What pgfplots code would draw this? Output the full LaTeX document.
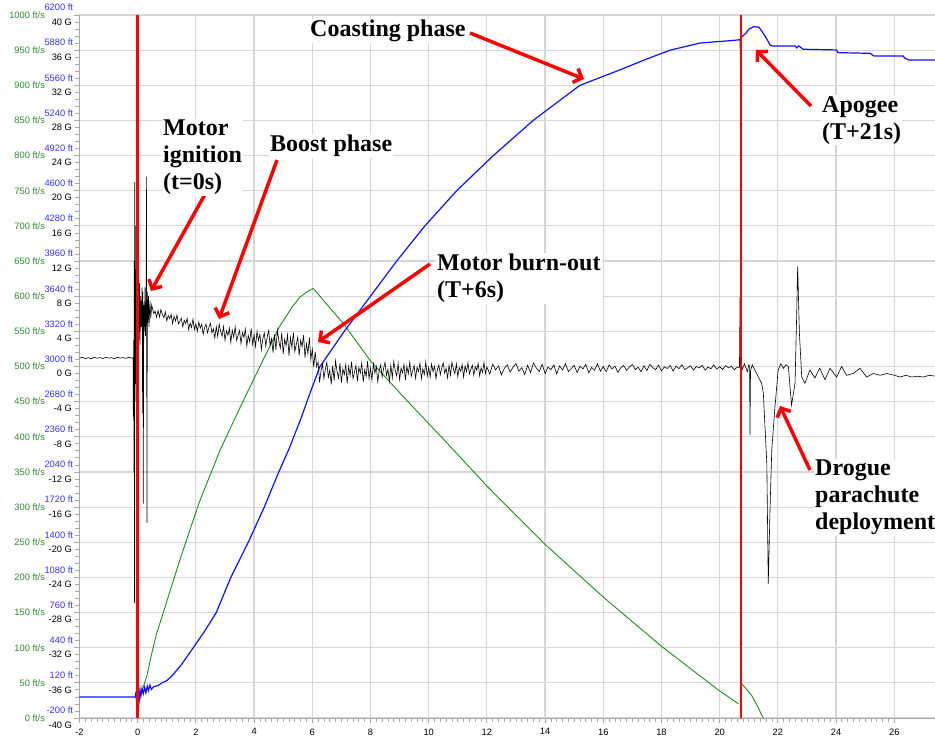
\documentclass[border=0pt]{standalone}
\usepackage{fontspec}
\setmainfont{Liberation Serif}
\newfontfamily\lsans{Liberation Sans}
\usepackage{pgfplots}
\pgfplotsset{compat=1.18}
\usetikzlibrary{arrows.meta}
\definecolor{gridgray}{HTML}{D6D6D6}
\definecolor{axgray}{HTML}{A8A8A8}
\definecolor{velgreen}{HTML}{1E8C1E}
\definecolor{lblgreen}{HTML}{2E8B2E}
\definecolor{altblue}{HTML}{1010FF}
\definecolor{lblblue}{HTML}{3333FF}
\definecolor{redline}{HTML}{FF0000}

\pgfplotsset{
  base/.style={
    at={(79.5pt,22pt)}, anchor=south west,
    scale only axis, width=855.5pt, height=703pt,
    xmin=-2, xmax=27.4,
    clip=true,
    scaled ticks=false,
    /pgf/number format/assume math mode=true,
    /pgf/number format/1000 sep={},
    ticklabel style={font=\lsans\fontsize{9.3}{10}\selectfont},
    tick align=outside,
    major tick length=5pt, minor tick length=4pt,
  },
  over/.style={
    base, hide x axis, axis y line*=left,
    y axis line style={draw=none, -},
    ytick style={draw=none},
    grid=none,
  }
}

\begin{document}
\begin{tikzpicture}
\path[use as bounding box] (0,0) rectangle (935pt,740pt);

% ---------- main axis: velocity (ft/s) ----------
\begin{axis}[base,
  ymin=0, ymax=1000,
  ytick={0,50,...,1000},
  minor y tick num=4,
  xtick={-2,0,...,26},
  minor x tick num=9,
  axis x line*=bottom, axis y line*=left,
  axis line style={axgray, line width=1pt, -},
  x axis line style={-}, y axis line style={-},
  tick style={axgray, line width=0.8pt},
  grid=major, major grid style={gridgray, line width=1.2pt},
  yticklabel={\pgfmathprintnumber{\tick} ft/s},
  yticklabel style={lblgreen, anchor=east, xshift=-26pt},
  xticklabel style={black, yshift=-2pt},
]
\addplot[velgreen, line width=0.9pt] coordinates {
(0,0) (0.03,15) (0.08,30) (0.31,59) (0.5,95) (0.65,120) (0.88,150) (1.45,225)
(2.1,305) (2.83,381) (3.5,440) (4.2,500) (4.89,558) (5.3,584) (5.58,599)
(5.85,607) (6.03,611) (6.2,603) (7.07,561) (8.0,508) (9.24,452) (10.5,397)
(12,330) (14,247) (16,172) (18,102) (19.95,40) (20.65,20)
};
\addplot[velgreen, line width=0.9pt] coordinates {
(20.73,50) (20.9,42) (21.1,32) (21.3,17) (21.4,8) (21.5,0)
};
\end{axis}

% ---------- altitude axis (ft) ----------
\begin{axis}[over,
  ymin=-200, ymax=6200,
  ytick={-200,120,...,6200},
  yticklabel={\pgfmathprintnumber{\tick} ft},
  yticklabel style={lblblue, anchor=east, xshift=2pt, yshift=7.5pt},
]
\addplot[altblue, line width=1.2pt] coordinates {
(-2,-9) (-0.08,-9) (-0.06,40) (-0.04,-60) (-0.02,30) (0,-120) (0.02,20)
(0.05,-20) (0.08,60) (0.11,0) (0.15,70) (0.19,20) (0.24,80) (0.28,30)
(0.33,90) (0.37,50) (0.42,100) (0.47,60) (0.55,85) (0.7,95) (0.82,118)
(1.0,140) (1.2,190) (1.5,285) (1.91,440) (2.3,590) (2.7,760) (3.2,1080)
(3.8,1400) (4.35,1720) (4.85,2040) (5.2,2250) (5.6,2520) (5.92,2756)
(6.26,2998) (7.1,3320) (8.0,3640) (8.9,3960) (9.87,4280) (10.96,4600)
(12.22,4920) (13.59,5240) (15.2,5560) (16.57,5700) (17.5,5800) (18.3,5880)
(19.33,5945) (20.35,5966) (20.7,5975) (20.72,5840) (20.75,6000)
(20.9,6033) (21.0,6070) (21.17,6094) (21.35,6088) (21.46,6048) (21.57,6003)
(21.67,5958) (21.73,5927) (21.8,5918) (22.6,5918) (22.65,5900) (22.72,5918)
(22.87,5888) (24.02,5882) (24.05,5860) (24.14,5857) (25.17,5851)
(25.3,5827) (26.31,5827) (26.35,5810) (26.5,5790) (27.4,5790)
};
\end{axis}

% ---------- acceleration axis (G) ----------
\begin{axis}[over,
  ymin=-40, ymax=40,
  ytick={-40,-36,...,40},
  yticklabel={\pgfmathprintnumber{\tick} G},
  yticklabel style={black, anchor=east, xshift=1pt, yshift=-7pt},
]
\addplot[black, line width=0.6pt] coordinates {
(-2.0,0.95) (-1.9,1.05) (-1.8,0.9) (-1.7,1.0) (-1.6,0.88) (-1.5,1.05)
(-1.4,0.95) (-1.3,1.02) (-1.2,0.9) (-1.1,1.05) (-1.0,0.95) (-0.9,1.0)
(-0.8,0.9) (-0.7,1.05) (-0.6,0.95) (-0.5,1.02) (-0.4,0.92) (-0.3,1.05)
(-0.2,0.95) (-0.16,1.0)
(-0.15,-5.7) (-0.14,3.0) (-0.13,-12.1) (-0.12,12.0) (-0.11,-26.9) (-0.10,21.0)
(-0.09,-4.0) (-0.08,16.0) (-0.07,-2.0) (-0.06,10.0) (-0.05,2.0) (-0.04,13.0)
(-0.03,4.0) (0.02,11.0) (0.04,3.0) (0.06,9.5) (0.08,2.5) (0.10,8.0)
(0.12,4.5) (0.15,9.0) (0.17,-5.3) (0.18,8.5) (0.19,-15.6) (0.21,7.0)
(0.23,4.0) (0.25,9.0) (0.27,3.5) (0.29,8.0) (0.30,21.6) (0.31,2.0)
(0.32,-17.8) (0.33,8.5) (0.35,5.0) (0.37,8.0) (0.39,4.5) (0.42,7.5)
(0.45,5.5) (0.48,7.0)
(0.50,6.75) (0.55,6.04) (0.60,6.28) (0.65,5.60) (0.70,6.38) (0.75,5.63)
(0.80,6.48) (0.85,5.94) (0.90,5.54) (0.95,6.21) (1.00,5.19) (1.05,5.81)
(1.10,5.46) (1.15,5.93) (1.20,4.87) (1.25,5.70) (1.30,5.16) (1.35,5.86)
(1.40,4.85) (1.45,5.16) (1.50,5.48) (1.55,4.51) (1.60,5.26) (1.65,4.89)
(1.70,5.46) (1.75,4.21) (1.80,4.93) (1.85,4.44) (1.90,5.39) (1.95,4.20)
(2.00,4.85) (2.05,4.00) (2.10,5.06) (2.15,4.37) (2.20,4.81) (2.25,3.65)
(2.30,4.44) (2.35,4.82) (2.40,3.85) (2.45,4.48) (2.50,4.92) (2.55,3.84)
(2.60,4.28) (2.65,3.25) (2.70,4.54) (2.75,3.41) (2.80,4.82) (2.85,4.01)
(2.90,3.44) (2.95,4.55) (3.00,2.99) (3.05,4.04) (3.10,3.56) (3.15,4.36)
(3.20,2.74) (3.25,4.13) (3.30,3.33) (3.35,4.51) (3.40,2.97) (3.45,3.53)
(3.50,4.10) (3.55,2.61) (3.60,3.85) (3.65,3.31) (3.70,4.26) (3.75,2.35)
(3.80,3.53) (3.85,2.81) (3.90,4.34) (3.95,2.52) (4.00,3.59) (4.05,2.28)
(4.10,4.00) (4.15,2.96) (4.20,3.68) (4.25,1.90) (4.30,3.17) (4.35,3.82)
(4.40,2.33) (4.45,3.35) (4.50,4.08) (4.55,2.42) (4.60,3.16) (4.65,1.58)
(4.70,3.64) (4.75,1.90) (4.80,4.14) (4.85,2.92) (4.90,2.07) (4.95,3.84)
(5.00,1.44) (5.05,3.10) (5.10,2.38) (5.15,3.62) (5.20,1.22) (5.25,3.30)
(5.30,2.16) (5.35,3.89) (5.40,1.70) (5.45,2.52) (5.50,3.34) (5.55,1.28)
(5.60,2.99) (5.65,2.26) (5.70,3.56) (5.75,1.00) (5.80,2.58) (5.85,1.47)
(5.90,3.30) (5.95,0.79) (6.00,1.99) (6.05,-0.07) (6.10,1.65) (6.15,-0.01)
(6.20,0.50) (6.25,-1.80) (6.30,-0.47) (6.35,0.25) (6.40,-1.38) (6.45,-0.28)
(6.50,0.47)
(6.55,-1.24) (6.60,-0.43) (6.65,-2.03) (6.70,0.11) (6.75,-1.61) (6.80,0.64)
(6.85,-0.55) (6.90,-1.33) (6.95,0.37) (7.00,-1.84) (7.05,-0.27) (7.10,-0.92)
(7.15,0.24) (7.20,-1.93) (7.25,-0.01) (7.30,-1.03) (7.35,0.56) (7.40,-1.39)
(7.45,-0.63) (7.50,0.12) (7.55,-1.68) (7.60,-0.13) (7.65,-0.74) (7.70,0.42)
(7.75,-1.77) (7.80,-0.37) (7.85,-1.15) (7.90,0.60) (7.95,-1.37) (8.00,-0.18)
(8.05,-1.54) (8.10,0.30) (8.15,-0.76) (8.20,0.01) (8.25,-1.74) (8.30,-0.46)
(8.35,0.18) (8.40,-1.19) (8.45,-0.22) (8.50,0.47) (8.55,-1.00) (8.60,-0.33)
(8.65,-1.67) (8.70,0.13) (8.75,-1.31) (8.80,0.57) (8.85,-0.42) (8.90,-1.07)
(8.95,0.34) (9.00,-1.49) (9.05,-0.19) (9.10,-0.73) (9.15,0.24) (9.20,-1.56)
(9.25,0.02) (9.30,-0.81) (9.35,0.49) (9.40,-1.11) (9.45,-0.49) (9.50,0.13)
(9.55,-1.35) (9.60,-0.07) (9.65,-0.57) (9.70,0.38) (9.75,-1.41) (9.80,-0.26)
(9.85,-0.90) (9.90,0.53) (9.95,-1.09) (10.00,-0.11) (10.05,-1.22) (10.10,0.28)
(10.15,-0.58) (10.20,0.04) (10.25,-1.37) (10.30,-0.33) (10.35,0.19) (10.40,-0.93)
(10.45,-0.14) (10.50,0.41) (10.55,-0.77) (10.60,-0.22) (10.65,-1.30) (10.70,0.14)
(10.75,-1.01) (10.80,0.49) (10.85,-0.30) (10.90,-0.82) (10.95,0.32) (11.00,-1.15)
(11.05,-0.11) (11.10,-0.54) (11.15,0.23) (11.20,-1.20) (11.25,0.06) (11.30,-0.60)
(11.35,0.43) (11.40,-0.83) (11.45,-0.34) (11.50,0.15) (11.55,-1.01) (11.60,-0.01)
(11.65,-0.41) (11.70,0.34) (11.75,-1.06) (11.80,-0.16) (11.85,-0.66) (11.90,0.45)
(11.95,-0.80) (12.00,-0.04)
(12.1,-0.86) (12.2,0.26) (12.3,-0.38) (12.4,0.08) (12.5,-0.97) (12.6,-0.20)
(12.7,0.18) (12.8,-0.64) (12.9,-0.06) (13.0,0.34) (13.1,-0.53) (13.2,-0.13)
(13.3,-0.91) (13.4,0.14) (13.5,-0.70) (13.6,0.39) (13.7,-0.18) (13.8,-0.56)
(13.9,0.26) (14.0,-0.79) (14.1,-0.06) (14.2,-0.36) (14.3,0.19) (14.4,-0.83)
(14.5,0.06) (14.6,-0.40) (14.7,0.32) (14.8,-0.57) (14.9,-0.22) (15.0,0.12)
(15.1,-0.69) (15.2,0.01) (15.3,-0.27) (15.4,0.25) (15.5,-0.72) (15.6,-0.10)
(15.7,-0.44) (15.8,0.31) (15.9,-0.53) (16.0,-0.02) (16.1,-0.60) (16.2,0.18)
(16.3,-0.27) (16.4,0.05) (16.5,-0.67) (16.6,-0.14) (16.7,0.12) (16.8,-0.44)
(16.9,-0.04) (17.0,0.23) (17.1,-0.35) (17.2,-0.09) (17.3,-0.61) (17.4,0.09)
(17.5,-0.46) (17.6,0.25) (17.7,-0.12) (17.8,-0.36) (17.9,0.16) (18.0,-0.51)
(18.1,-0.04) (18.2,-0.23) (18.3,0.12) (18.4,-0.52) (18.5,0.04) (18.6,-0.25)
(18.7,0.20) (18.8,-0.35) (18.9,-0.14) (19.0,0.07) (19.1,-0.42) (19.2,0.00)
(19.3,-0.16) (19.4,0.14) (19.5,-0.42) (19.6,-0.06) (19.7,-0.26) (19.8,0.18)
(19.9,-0.31) (20.0,-0.01) (20.1,-0.34) (20.2,0.10) (20.3,-0.15) (20.4,0.03)
(20.5,-0.36) (20.6,-0.08)
(20.68,-0.1) (20.70,7.9) (20.72,0.5) (20.78,-0.3) (20.85,0.3) (20.95,-0.6)
(21.0,0.2) (21.03,0.1) (21.04,-7.8) (21.06,-0.5) (21.12,0.2) (21.21,-0.4)
(21.33,-1.2) (21.44,-1.9) (21.5,-3.0) (21.62,-11) (21.67,-24.7) (21.73,-16.3)
(21.79,-9.5) (21.9,-4.6) (22.01,-0.4) (22.1,0.3) (22.19,-0.2) (22.28,0.2)
(22.36,0) (22.47,-4.4) (22.59,-1.9) (22.65,6.4) (22.68,11.4) (22.74,3.8)
(22.82,-1.2) (22.93,-1.9) (23.1,-0.4) (23.27,-1.3) (23.44,-0.2) (23.62,-1.5)
(23.79,-0.2) (24.02,-1.2) (24.19,0) (24.36,-1.0) (24.59,-0.8) (24.82,-0.2)
(25.05,-1.2) (25.28,-0.8) (25.51,-1.0) (25.74,-0.8) (26.0,-1.0) (26.2,-1.2)
(26.4,-1.0) (26.6,-1.2) (26.8,-1.1) (27.0,-1.2) (27.2,-1.0) (27.4,-1.1)
};
\addplot[redline, line width=2.6pt] coordinates {(0,-40) (0,40)};
\addplot[redline, line width=2.6pt] coordinates {(20.73,-40) (20.73,40)};
\end{axis}

% ---------- annotations (pixel coordinates of the reference) ----------
\begin{scope}[x=1pt, y=-1pt, shift={(0pt,740pt)},
  lbl/.style={font=\bfseries\fontsize{24}{27}\selectfont, fill=white,
    inner sep=1pt, align=left, text=black},
  arr/.style={redline, line width=3.5pt,
    -{Straight Barb[length=7pt,width=15pt]}}]
\draw[arr] (213,180) -- (151,291);
\draw[arr] (277,160) -- (219,319);
\draw[arr] (470,33) -- (584,79);
\draw[arr] (430,264) -- (318,342);
\draw[arr] (811,106) -- (756,50);
\draw[arr] (810,470) -- (780,406);
\node[lbl, anchor=north west] at (162,119) {Motor\\ignition\\(t=0s)};
\node[lbl, anchor=west] at (269,146) {Boost phase};
\node[lbl, anchor=west] at (309,31) {Coasting phase};
\node[lbl, anchor=north west] at (436,253) {Motor burn-out\\(T+6s)};
\node[lbl, anchor=north west] at (821,95) {Apogee\\(T+21s)};
\node[lbl, anchor=north west] at (814,459) {Drogue\\parachute\\deployment};
\end{scope}
\end{tikzpicture}
\end{document}
